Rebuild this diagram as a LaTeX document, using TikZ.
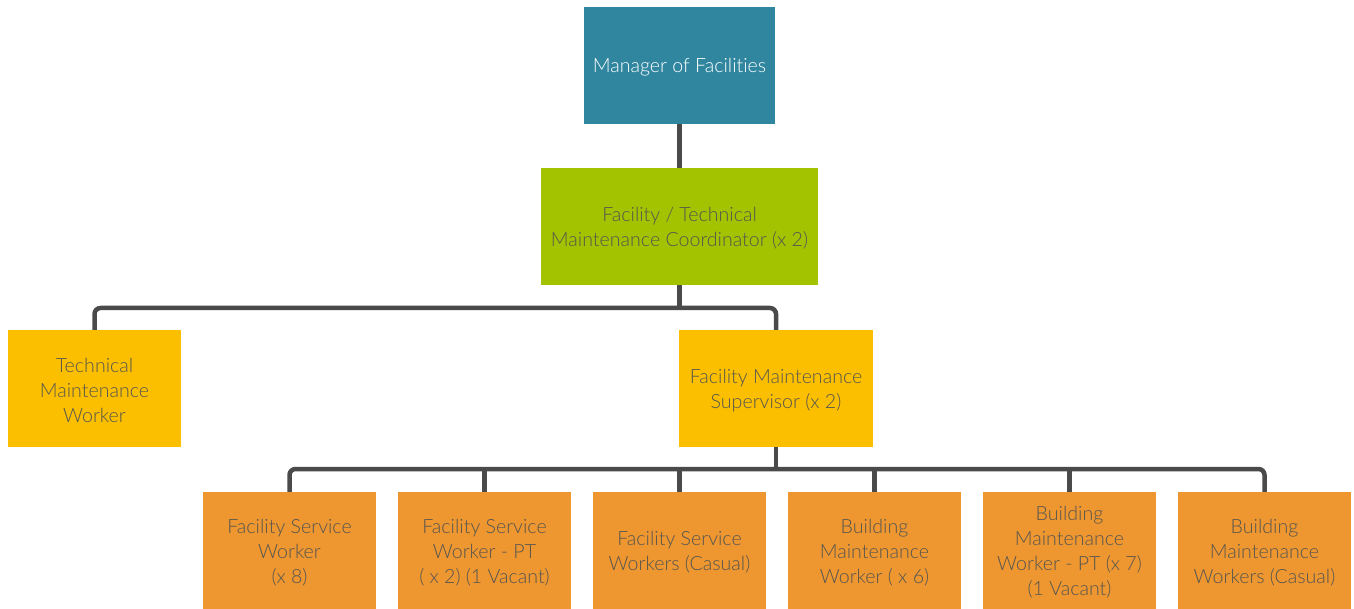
\documentclass[tikz,border=0pt]{standalone}
\usepackage{fontspec}
\setmainfont{Lato Light}[Ligatures=NoCommon]
\definecolor{teal1}{HTML}{31869F}
\definecolor{green1}{HTML}{A3C300}
\definecolor{yellow1}{HTML}{FBBF00}
\definecolor{orange1}{HTML}{EE9731}
\definecolor{line1}{HTML}{4A4A4A}
\definecolor{txt1}{HTML}{55554F}
\begin{document}
\begin{tikzpicture}[x=1pt,y=-1pt,
  box/.style={minimum height=117pt, inner sep=0pt, align=center, font=\fontsize{19.6}{25}\selectfont, text=txt1},
  lbl/.style={align=center, font=\fontsize{19.6}{25}\selectfont, text=txt1, inner sep=0pt, yshift=-2pt},
  conn/.style={line1, line width=4.5pt, rounded corners=6pt}]
\useasboundingbox (0,0) rectangle (1354,609);
\tikzset{mk/.style args={#1/#2/#3/#4}{}}
\node[box, fill=teal1, minimum width=191pt] (mgr) at (679.5,65.5) {};
\node[lbl, text=white] (mgrt) at (mgr.center) {Manager of Facilities};
\node[box, fill=green1, minimum width=277pt] (coord) at (679.5,226.5) {};
\node[lbl] (coordt) at (coord.center) {Facility / Technical\\Maintenance Coordinator (x 2)};
\node[box, fill=yellow1, minimum width=173pt] (tmw) at (94.5,388.5) {};
\node[lbl] (tmwt) at (tmw.center) {Technical\\Maintenance\\Worker};
\node[box, fill=yellow1, minimum width=194pt] (fms) at (776,388.5) {};
\node[lbl] (fmst) at (fms.center) {Facility Maintenance\\Supervisor (x 2)};
\node[box, fill=orange1, minimum width=173pt] (b1) at (289.5,550.5) {};
\node[lbl] (b1t) at (b1.center) {Facility Service\\Worker\\(x 8)};
\node[box, fill=orange1, minimum width=173pt] (b2) at (484.5,550.5) {};
\node[lbl] (b2t) at (b2.center) {Facility Service\\Worker - PT\\( x 2) (1 Vacant)};
\node[box, fill=orange1, minimum width=173pt] (b3) at (679.5,550.5) {};
\node[lbl] (b3t) at (b3.center) {Facility Service\\Workers (Casual)};
\node[box, fill=orange1, minimum width=173pt] (b4) at (874.5,550.5) {};
\node[lbl] (b4t) at (b4.center) {Building\\Maintenance\\Worker ( x 6)};
\node[box, fill=orange1, minimum width=173pt] (b5) at (1069.5,550.5) {};
\node[lbl] (b5t) at (b5.center) {Building\\Maintenance\\Worker - PT (x 7)\\(1 Vacant)};
\node[box, fill=orange1, minimum width=173pt] (b6) at (1264.5,550.5) {};
\node[lbl] (b6t) at (b6.center) {Building\\Maintenance\\Workers (Casual)};
\coordinate (h1) at (679.5,308);
\coordinate (h2) at (776,469);
\draw[conn] (mgr.south) -- (coord.north);
\draw[conn] (coord.south) -- (h1);
\draw[conn] (tmw.north) |- (h1) -| (fms.north);
\draw[conn] (fms.south) -- (h2);
\draw[conn] (b1.north) |- (h2) -| (b6.north);
\foreach \b in {b2,b3,b4,b5} \draw[conn] (\b.north) -- (\b.north |- h2);
\end{tikzpicture}
\end{document}
